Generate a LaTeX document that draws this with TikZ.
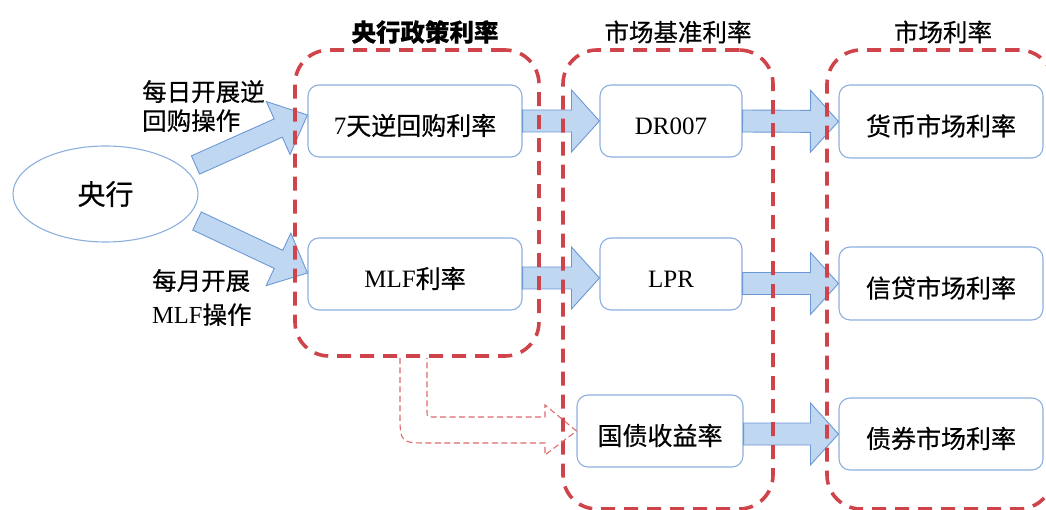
\documentclass[tikz,border=0pt]{standalone}
\usepackage{fontspec}
\setmainfont{Liberation Serif}
\newfontfamily\cjk[FakeBold=0.5]{Noto Sans CJK SC}
\usetikzlibrary{calc,shapes.geometric}
\definecolor{redd}{RGB}{207,68,74}
\definecolor{redt}{RGB}{222,105,110}
\definecolor{boxline}{RGB}{140,175,222}
\definecolor{arrfill}{RGB}{192,215,242}
\definecolor{arrline}{RGB}{108,152,214}
\tikzset{
  txt/.style={font=\fontsize{25}{29}\selectfont, inner sep=0pt, text=black},
  rbox/.style={txt, draw=boxline, line width=1.1pt, rounded corners=11pt, fill=white,
               text height=30pt, text depth=2pt},
  container/.style={draw=redd, line width=3.6pt, dash pattern=on 14pt off 9pt, rounded corners=34pt, inner sep=0pt},
  blk/.style n args={3}{fill=arrfill, draw=arrline, line width=0.9pt, line join=miter, to path={
    let \p1=(\tikztostart), \p2=(\tikztotarget),
        \n1={atan2(\y2-\y1,\x2-\x1)}, \n2={veclen(\x2-\x1,\y2-\y1)-#3} in
    ($(\p1)+({\n1+90}:#1)$) -- ($(\p1)+({\n1}:{\n2*1pt})+({\n1+90}:#1)$)
    -- ($(\p1)+({\n1}:{\n2*1pt})+({\n1+90}:#2)$) -- (\p2)
    -- ($(\p1)+({\n1}:{\n2*1pt})+({\n1-90}:#2)$) -- ($(\p1)+({\n1}:{\n2*1pt})+({\n1-90}:#1)$)
    -- ($(\p1)+({\n1-90}:#1)$) -- cycle}},
  hblk/.style={blk={11pt}{31pt}{28}},
  dblk/.style={blk={10pt}{29pt}{32}},
  hollow/.style={draw=redt, line width=1.1pt, dash pattern=on 6pt off 3.5pt},
}
\begin{document}
\begin{tikzpicture}[x=1pt,y=-1pt]
\useasboundingbox (0,0) rectangle (1046,510);
\clip (0,0) rectangle (1046,510);
% central bank
\node[ellipse, draw=boxline, line width=1.1pt, minimum width=185pt, minimum height=96pt, inner sep=0pt,
      font=\fontsize{28}{30}\selectfont] (cb) at (105.5,194) {\cjk 央行};
% boxes
\node[rbox, minimum width=214pt, minimum height=72pt] (r7)  at (415,121) {7{\cjk 天逆回购利率}};
\node[rbox, minimum width=214pt, minimum height=72pt] (mlf) at (415,274) {MLF{\cjk 利率}};
\node[rbox, minimum width=142pt, minimum height=72pt] (dr)  at (671,121) {DR007};
\node[rbox, minimum width=142pt, minimum height=72pt] (lpr) at (671,274) {LPR};
\node[rbox, minimum width=166pt, minimum height=72pt] (gz)  at (660,431) {\cjk 国债收益率};
\node[rbox, minimum width=204pt, minimum height=73pt] (hb)  at (941,121.5) {\cjk 货币市场利率};
\node[rbox, minimum width=204pt, minimum height=73pt] (xd)  at (941,283.5) {\cjk 信贷市场利率};
\node[rbox, minimum width=204pt, minimum height=72pt] (zq)  at (941,434) {\cjk 债券市场利率};
% block arrows
\draw[dblk] ([shift={(90,-29)}]cb.center) to ([yshift=6pt]r7.west);
\draw[dblk] ([shift={(91.5,27)}]cb.center) to ([yshift=1pt]mlf.west);
\draw[hblk] (r7.east) to (dr.west);
\draw[hblk] ([yshift=-4pt]mlf.east) to ([yshift=-4pt]lpr.west);
\draw[hblk] (dr.east) to (hb.west);
\draw[hblk] (lpr.east |- xd.west) to (xd.west);
\draw[hblk] (gz.east |- zq.west) to (zq.west);
% containers
\node[container, minimum width=244pt, minimum height=306pt] (c1) at (417,203) {};
\node[container, minimum width=210pt, minimum height=459pt] (c2) at (668,279.5) {};
\node[container, minimum width=226pt, minimum height=459pt] (c3) at (940,279.5) {};
% hollow dashed arrow
\coordinate (h1) at ([xshift=-17pt]c1.south);
\coordinate (h2) at ([xshift=10pt]c1.south);
\draw[hollow] (h1) -- (400,413) .. controls (400,443) .. (430,443) -- (545,443) -- (545,455)
   -- (gz.west) -- (545,405) -- (545,417) -- (433,417) .. controls (427,417) .. (427,411) -- (h2);
% titles
\node[txt, font=\fontsize{24.5}{29}\selectfont\bfseries] (t1) at (425,32) {\cjk 央行政策利率};
\node[txt, font=\fontsize{24.5}{29}\selectfont] (t2) at (678,32) {\cjk 市场基准利率};
\node[txt, font=\fontsize{24.5}{29}\selectfont] (t3) at (943,32) {\cjk 市场利率};
% labels
\node[txt, align=left, anchor=north west, font=\fontsize{24.5}{29}\selectfont] (l1) at (142,80)
  {{\cjk 每日开展逆}\\{\cjk 回购操作}};
\node[txt, align=left, anchor=north west, font=\fontsize{24.5}{34}\selectfont] (l2) at (152,269)
  {{\cjk 每月开展}\\MLF{\cjk 操作}};
\end{tikzpicture}
\end{document}
